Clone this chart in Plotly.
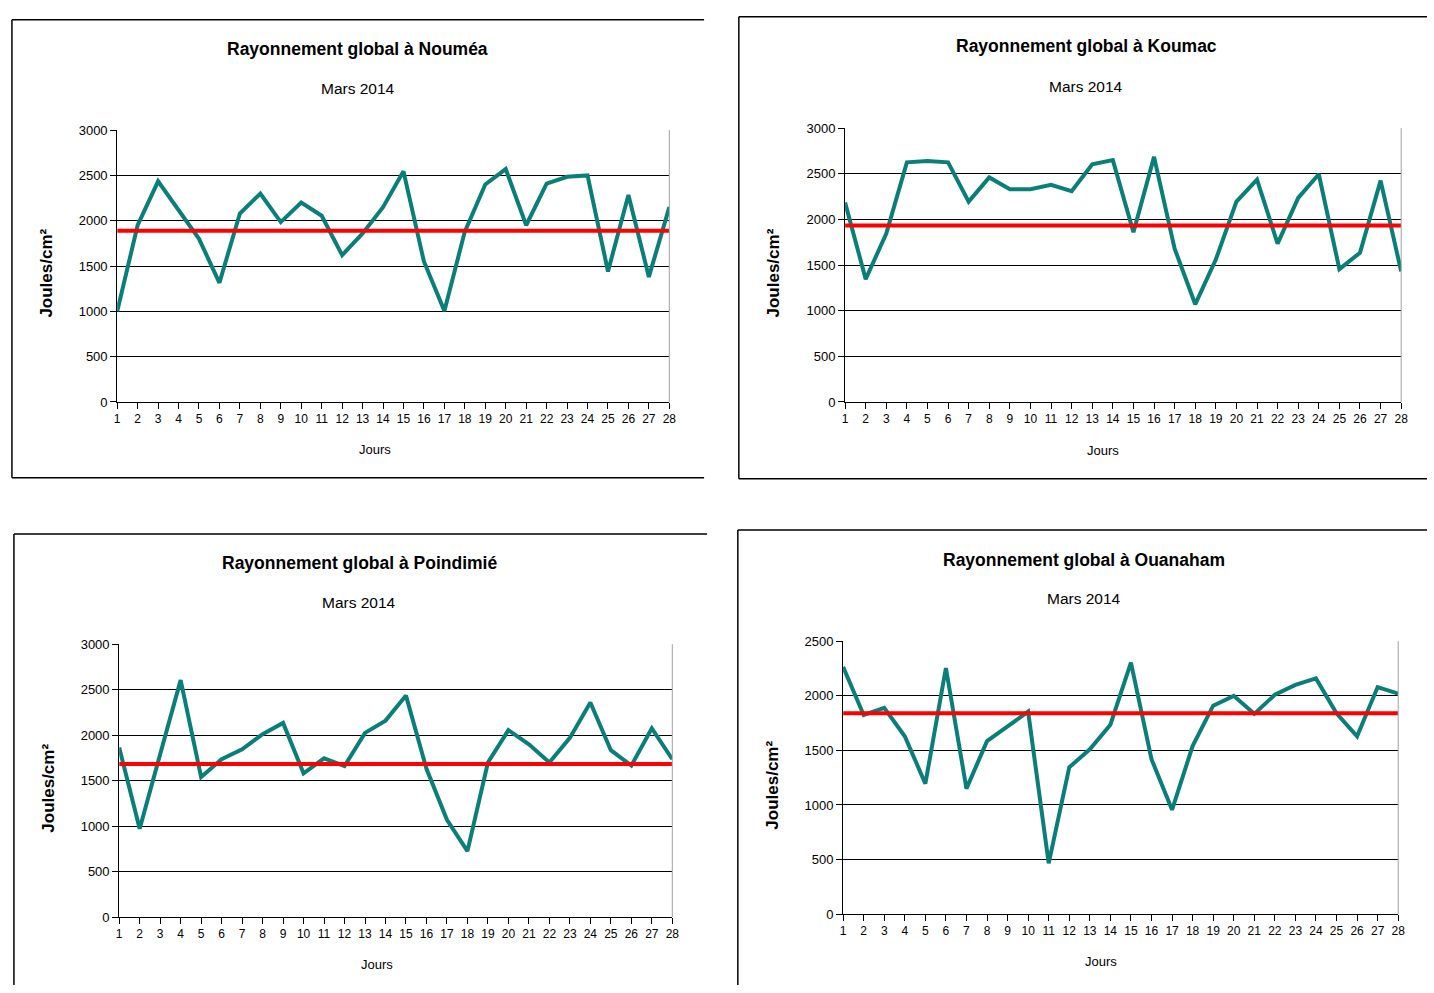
import plotly.graph_objects as go

W, H = 1434, 993

days = list(range(1, 29))
day_labels = [str(d) for d in days]

stations = ["Nouméa", "Koumac", "Poindimié", "Ouanaham"]
subtitle = "Mars 2014"

noumea = [1000, 1950, 2435, 2110, 1800, 1315, 2080, 2300, 1985, 2200, 2055, 1620,
          1860, 2150, 2545, 1550, 1005, 1880, 2400, 2570, 1950, 2410, 2485, 2500,
          1440, 2285, 1380, 2150]
koumac = [2185, 1345, 1845, 2625, 2640, 2625, 2195, 2460, 2330, 2330, 2380, 2310,
          2605, 2650, 1860, 2685, 1680, 1070, 1560, 2195, 2435, 1735, 2235, 2495,
          1455, 1635, 2425, 1430]
poindimie = [1865, 970, 1790, 2605, 1540, 1735, 1845, 2010, 2135, 1580, 1745, 1660,
             2025, 2160, 2435, 1630, 1070, 725, 1700, 2055, 1900, 1700, 1970, 2360,
             1835, 1665, 2075, 1735]
ouanaham = [2265, 1825, 1890, 1630, 1195, 2255, 1150, 1585, 1720, 1855, 465, 1345,
            1510, 1735, 2305, 1420, 955, 1540, 1910, 2000, 1835, 2010, 2100, 2160,
            1840, 1630, 2080, 2020]
series = [noumea, koumac, poindimie, ouanaham]
means = [1888, 1932, 1683, 1840]
ymax = [3000, 3000, 3000, 2500]

# plot areas in pixels: left, right, top, bottom
areas = [(115, 671, 125, 401), (848, 1408, 123, 401),
         (117, 674, 647, 924), (846, 1405, 644, 921)]
title_pos = [(357, 43, 83, 44, 270, 375, 449),
             (1091, 40, 81, 776, 270, 1108, 450),
             (359, 565, 605, 45, 793, 377, 972),
             (1089, 561, 601, 774, 790, 1106, 969)]

TEAL = "#0a7f7a"
FONT = "Liberation Sans"
NARROW = "Liberation Sans Narrow, Liberation Sans"

def px(x):
    return x / W

def py(y):
    return 1 - y / H

fig = go.Figure()
layout = dict(autosize=True, margin=dict(l=0, r=0, t=0, b=0),
              paper_bgcolor="white", plot_bgcolor="white", showlegend=False,
              font=dict(family=FONT, color="black"))
annotations = []
shapes = []

for i in range(4):
    n = "" if i == 0 else str(i + 1)
    l, r, t, b = areas[i]
    layout["xaxis" + n] = dict(domain=[px(l), px(r)], range=[1, 28], anchor="y" + n,
                               tickmode="array", tickvals=days, ticktext=day_labels,
                               ticks="outside", ticklen=6, tickcolor="black",
                               showline=True, linecolor="black", linewidth=1,
                               showgrid=False, zeroline=False,
                               tickfont=dict(family=NARROW, size=12, color="black"))
    layout["yaxis" + n] = dict(domain=[py(b), py(t)], range=[0, ymax[i]], anchor="x" + n,
                               dtick=500, ticks="outside", ticklen=6, tickcolor="black",
                               showline=True, linecolor="black", linewidth=1,
                               showgrid=True, gridcolor="black", gridwidth=1,
                               zeroline=False,
                               tickfont=dict(family=NARROW, size=13, color="black"))
    fig.add_trace(go.Scatter(x=days, y=series[i], mode="lines",
                             line=dict(color=TEAL, width=4),
                             xaxis="x" + n, yaxis="y" + n, hoverinfo="skip"))
    fig.add_trace(go.Scatter(x=[1, 28], y=[means[i], means[i]], mode="lines",
                             line=dict(color="#ff0000", width=4),
                             xaxis="x" + n, yaxis="y" + n, hoverinfo="skip"))
    # right border of plot area
    shapes.append(dict(type="line", xref="x" + n + " domain", yref="y" + n + " domain",
                       x0=1, x1=1, y0=0, y1=1, line=dict(color="#a0a0a0", width=1)))
    cx, ty, sy, lx, ly, jx, jy = title_pos[i]
    annotations.append(dict(text="<b>Rayonnement global à " + stations[i] + "</b>",
                            x=px(cx), y=py(ty), xref="paper", yref="paper",
                            showarrow=False, xanchor="center", yanchor="middle",
                            font=dict(family=FONT, size=17.5, color="black")))
    annotations.append(dict(text=subtitle, x=px(cx), y=py(sy), xref="paper", yref="paper",
                            showarrow=False, xanchor="center", yanchor="middle",
                            font=dict(family=FONT, size=15.5, color="black")))
    annotations.append(dict(text="<b>Joules/cm²</b>", x=px(lx), y=py(ly), xref="paper",
                            yref="paper", showarrow=False, textangle=-90,
                            xanchor="center", yanchor="middle",
                            font=dict(family=FONT, size=17, color="black")))
    annotations.append(dict(text="Jours", x=px(jx), y=py(jy), xref="paper", yref="paper",
                            showarrow=False, xanchor="center", yanchor="middle",
                            font=dict(family=NARROW, size=13, color="black")))

# panel frames (top, left, bottom lines)
frames = [
    [(9, 13, 706, 13), (9, 13, 9, 478), (9, 478, 706, 478)],
    [(741, 10, 1434, 10), (741, 10, 741, 479), (741, 479, 1434, 479)],
    [(11, 535, 709, 535), (11, 535, 11, 993)],
    [(740, 531, 1434, 531), (740, 531, 740, 993)],
]
for fr in frames:
    for (x0, y0, x1, y1) in fr:
        shapes.append(dict(type="line", xref="paper", yref="paper",
                           x0=px(x0), y0=py(y0), x1=px(x1), y1=py(y1),
                           line=dict(color="black", width=1.5)))

layout["annotations"] = annotations
layout["shapes"] = shapes
fig.update_layout(**layout)
fig.write_html("out.html",
               config={"displayModeBar": False, "responsive": True},
               default_width="100vw", default_height="100vh",
               post_script="document.body.style.margin='0';"
                           "document.body.style.overflow='hidden';"
                           "document.documentElement.style.overflow='hidden';"
                           "Plotly.Plots.resize(document.getElementById('{plot_id}'));")
